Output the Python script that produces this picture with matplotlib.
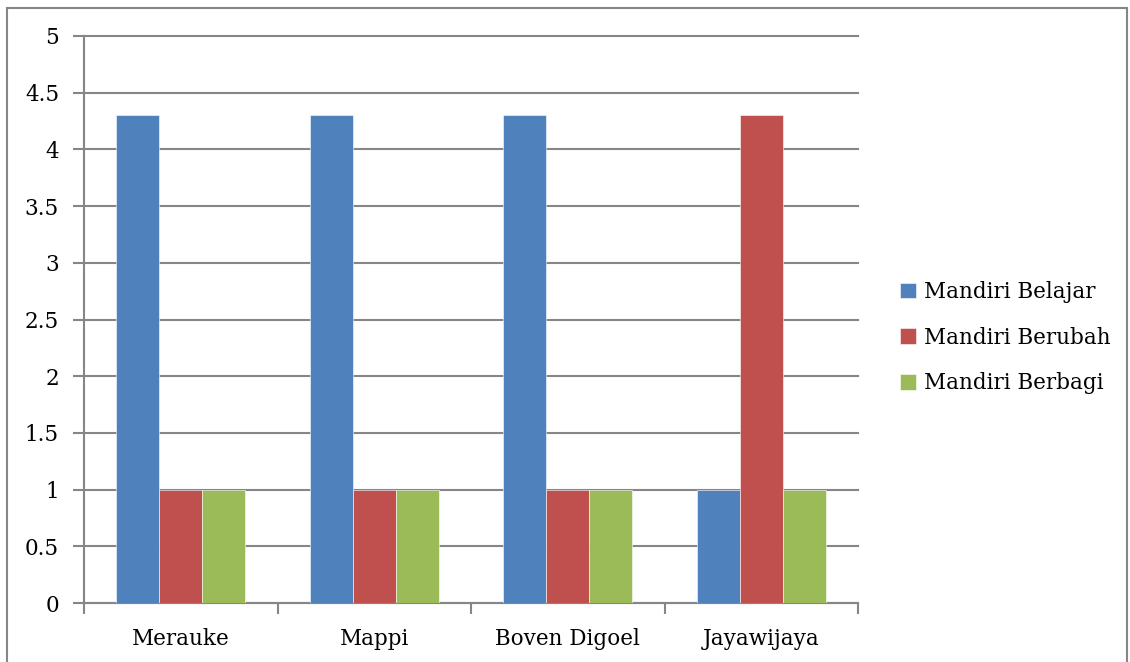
import matplotlib
matplotlib.use("Agg")
import matplotlib.pyplot as plt
from matplotlib.patches import Rectangle
import numpy as np

plt.rcParams["font.family"] = ["DejaVu Serif"]
plt.rcParams["font.size"] = 15.5

categories = ["Merauke", "Mappi", "Boven Digoel", "Jayawijaya"]
series_names = ["Mandiri Belajar", "Mandiri Berubah", "Mandiri Berbagi"]
belajar = [4.3, 4.3, 4.3, 1.0]
berubah = [1.0, 1.0, 1.0, 4.3]
berbagi = [1.0, 1.0, 1.0, 1.0]
colors = ["#4F81BD", "#C0504D", "#9BBB59"]
yticks = [0, 0.5, 1, 1.5, 2, 2.5, 3, 3.5, 4, 4.5, 5]

grid_c = "#868686"

fig = plt.figure(figsize=(11.3, 6.62), dpi=100)
ax = fig.add_axes([84 / 1130, 59 / 662, 774 / 1130, 567 / 662])

x = np.arange(len(categories))
width = 0.222
for i, (vals, name, c) in enumerate(zip([belajar, berubah, berbagi], series_names, colors)):
    ax.bar(x + (i - 1) * width, vals, width, color=c, label=name,
           edgecolor="white", linewidth=0.4, zorder=3)

ax.set_xlim(-0.5, len(categories) - 0.5)
ax.set_ylim(0, 5)
ax.set_yticks(yticks)
ax.set_yticklabels([f"{v:g}" for v in yticks])
ax.yaxis.grid(True, color=grid_c, linewidth=1.5, zorder=0)
for gl in ax.get_ygridlines():
    gl.set_clip_on(False)
ax.set_axisbelow(True)

ax.set_xticks(np.arange(len(categories) + 1) - 0.5)
ax.set_xticklabels([])
ax.set_xticks(x, minor=True)
ax.set_xticklabels(categories, minor=True)
ax.tick_params(axis="x", which="major", direction="out", length=8, width=1.5, color=grid_c)
ax.tick_params(axis="x", which="minor", length=0, pad=18)
ax.tick_params(axis="y", direction="out", length=8, width=1.5, color=grid_c, pad=10)

for s in ["top", "right"]:
    ax.spines[s].set_visible(False)
for s in ["left", "bottom"]:
    ax.spines[s].set_color(grid_c)
    ax.spines[s].set_linewidth(1.5)

handles, labels = ax.get_legend_handles_labels()
fig.legend(handles, labels, loc="center left", bbox_to_anchor=(0.779, 0.49),
           frameon=False, handlelength=0.75, handleheight=0.75, handletextpad=0.4,
           labelspacing=1.1, fontsize=15.5)

fig.add_artist(Rectangle((7 / 1130, -0.05), 1120 / 1130, 0.05 + 654 / 662, transform=fig.transFigure,
                         fill=False, edgecolor=grid_c, linewidth=1.5))

fig.savefig("out.png", dpi=100)
